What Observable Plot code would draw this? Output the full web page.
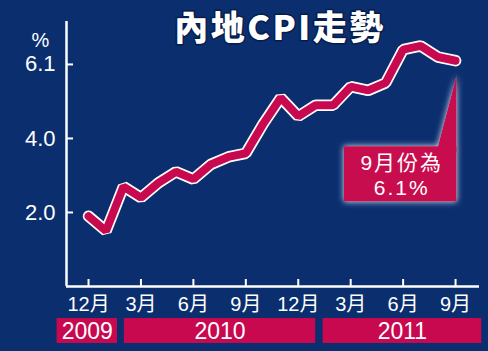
<!DOCTYPE html>
<html><head><meta charset="utf-8">
<script src="https://cdn.jsdelivr.net/npm/d3@7"></script>
<script src="https://cdn.jsdelivr.net/npm/@observablehq/plot@0.6"></script>
<style>
html,body{margin:0;padding:0;background:#0a2e6e;overflow:hidden;}
</style></head><body><div id="chart"></div>
<script>
// ---- data ----
const monthLabels = ["2009-12","2010-01","2010-02","2010-03","2010-04","2010-05","2010-06","2010-07","2010-08","2010-09","2010-10","2010-11","2010-12","2011-01","2011-02","2011-03","2011-04","2011-05","2011-06","2011-07","2011-08","2011-09"];
const cpi = [1.9, 1.5, 2.7, 2.4, 2.8, 3.1, 2.9, 3.3, 3.5, 3.6, 4.4, 5.1, 4.6, 4.9, 4.9, 5.4, 5.3, 5.5, 6.4, 6.5, 6.2, 6.1];
const xTicks = [0, 3, 6, 9, 12, 15, 18, 21];
const xTickLabels = ["12月","3月","6月","9月","12月","3月","6月","9月"];
const yTicks = [2, 4, 6];
const yTickLabels = ["2.0","4.0","6.1"];
const years = ["2009","2010","2011"];
const title = "內地CPI走勢";
const unitLabel = "%";
const noteText = "9月份為\n6.1%";

// ---- layout ----
const W = 488, H = 351;
const mL = 66, mR = 9, mT = 21, mB = 65;
const xDomain = [-1.26, 22.37];
const yDomain = [0, 7.16];
const plotW = W - mL - mR, plotH = H - mT - mB;
const navy = "#0a2e6e", crimson = "#c8084f";
const rows = cpi.map((v, i) => ({i, v, month: monthLabels[i]}));
const last = rows[rows.length - 1];

// year bars (x spans in month-index units)
const yearBars = years.map((y, k) => ({
  year: y,
  x1: [-1.8, 2.05, 13.42][k],
  x2: [1.66, 13.0, 22.5][k]
}));
const yb1 = -0.865, yb2 = -1.54;

// annotation box anchored to last point
const box = [{x1: last.i - 6.36, x2: last.i + 0.09, y1: last.v - 3.82, y2: last.v - 2.32}];
const pointer = [
  {x: last.i - 0.98, y1: last.v - 2.5, y2: last.v - 2.32},
  {x: last.i + 0.09, y1: last.v - 2.5, y2: last.v - 0.4}
];

const font = "'Liberation Sans', Arial, 'Noto Sans CJK TC', sans-serif";

const chart = Plot.plot({
  width: W, height: H,
  marginLeft: mL, marginRight: mR, marginTop: mT, marginBottom: mB,
  style: {background: navy, fontFamily: font, color: "white", overflow: "visible"},
  x: {domain: xDomain, axis: null},
  y: {domain: yDomain, axis: null},
  marks: [
    // axes lines
    Plot.ruleX([xDomain[0]], {stroke: "white", strokeWidth: 2.5}),
    Plot.ruleY([yDomain[0]], {stroke: "white", strokeWidth: 2.5}),
    Plot.tickY(yTicks, {y: d => d, stroke: "white", strokeWidth: 2, insetRight: plotW - 7}),
    Plot.tickX(xTicks, {x: d => d, stroke: "white", strokeWidth: 2, insetTop: plotH - 7}),
    Plot.text(yTicks, {x: xDomain[0], y: d => d, text: (d, i) => yTickLabels[i], textAnchor: "end", dx: -11, fontSize: 22, fill: "white"}),
    Plot.text([unitLabel], {x: xDomain[0], y: 6, text: d => d, dx: -26, dy: -24, fontSize: 20, fill: "white"}),
    Plot.text(xTicks, {x: d => d, y: yDomain[0], text: (d, i) => xTickLabels[i], lineAnchor: "top", dy: 10, fontSize: 20, fill: "white"}),
    // year bars
    Plot.rect(yearBars, {x1: "x1", x2: "x2", y1: yb1, y2: yb2, fill: crimson}),
    Plot.text(yearBars, {x: d => (d.x1 + d.x2) / 2, y: (yb1 + yb2) / 2, text: "year", fontSize: 23, fill: "white", dy: 1}),
    // line
    Plot.line(rows, {x: "i", y: "v", stroke: "white", strokeWidth: 11.5, strokeLinejoin: "miter", strokeLinecap: "round"}),
    Plot.line(rows, {x: "i", y: "v", stroke: crimson, strokeWidth: 8, strokeLinejoin: "miter", strokeLinecap: "round"}),
    // annotation
    Plot.areaY(pointer, {x: "x", y1: "y1", y2: "y2", fill: crimson}),
    Plot.rect(box, {x1: "x1", x2: "x2", y1: "y1", y2: "y2", fill: crimson}),
    Plot.text([noteText], {x: (box[0].x1 + box[0].x2) / 2, y: (box[0].y1 + box[0].y2) / 2, text: d => d, fontSize: 21, fill: "white", lineHeight: 1.2, dx: 1}),
    // title
    Plot.text([title], {frameAnchor: "top", dx: 7, dy: 8, lineAnchor: "middle", text: d => d, fontSize: 34, fontWeight: 900, fill: "white", stroke: "#061d4a", strokeWidth: 3, fontFamily: "'Noto Sans CJK TC', 'Liberation Sans', sans-serif"})
  ]
});

document.getElementById("chart").appendChild(chart);

const svg = d3.select(chart);
// letter spacing for title and note
svg.selectAll("text").each(function() {
  const t = this.textContent;
  if (t === title) this.style.letterSpacing = "2.5px";
  else if (t.startsWith("9月份為")) this.style.letterSpacing = "2px";
});

// glow around annotation
const defs = svg.insert("defs", ":first-child");
const f = defs.append("filter").attr("id", "glow").attr("x", "-30%").attr("y", "-30%").attr("width", "160%").attr("height", "160%");
f.append("feGaussianBlur").attr("in", "SourceAlpha").attr("stdDeviation", 3).attr("result", "blur");
f.append("feFlood").attr("flood-color", "#e8ecff").attr("flood-opacity", 0.95);
f.append("feComposite").attr("in2", "blur").attr("operator", "in").attr("result", "glow");
const m = f.append("feMerge");
m.append("feMergeNode").attr("in", "glow");
m.append("feMergeNode").attr("in", "SourceGraphic");
const areaG = svg.select('g[aria-label="area"]').node();
const rectGs = svg.selectAll('g[aria-label="rect"]').nodes();
const boxG = rectGs[rectGs.length - 1];
if (areaG && boxG) {
  const g = document.createElementNS("http://www.w3.org/2000/svg", "g");
  g.setAttribute("filter", "url(#glow)");
  areaG.parentNode.insertBefore(g, areaG);
  g.appendChild(areaG);
  g.appendChild(boxG);
}
</script>
</body></html>
